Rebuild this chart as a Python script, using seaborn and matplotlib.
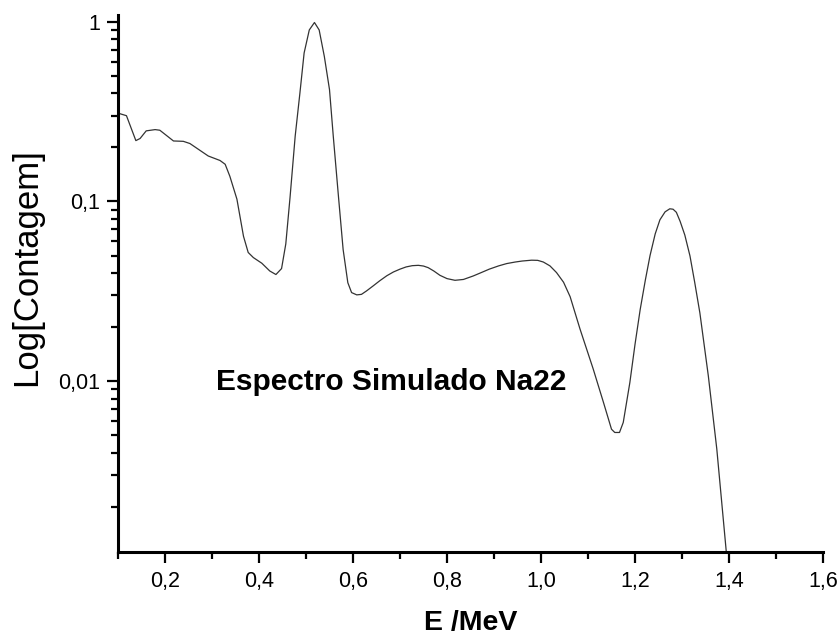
import matplotlib
matplotlib.use("Agg")
import matplotlib.pyplot as plt
import matplotlib.ticker as mticker
import numpy as np
import seaborn as sns

sns.set_style('white')
plt.rcParams['font.family'] = ['Liberation Sans', 'DejaVu Sans']
plt.rcParams['text.color'] = 'black'
plt.rcParams['axes.labelcolor'] = 'black'
plt.rcParams['xtick.color'] = 'black'
plt.rcParams['ytick.color'] = 'black'

# simulated Na22 spectrum
energy = [0.100, 0.118, 0.138, 0.147, 0.160, 0.179, 0.189, 0.218, 0.239, 0.253,
          0.292, 0.317, 0.328, 0.338, 0.353, 0.367, 0.377, 0.388, 0.406, 0.423,
          0.436, 0.448, 0.457, 0.466, 0.477, 0.487, 0.496, 0.507, 0.518, 0.528,
          0.539, 0.550, 0.558, 0.569, 0.579, 0.589, 0.597, 0.608, 0.618, 0.629,
          0.643, 0.657, 0.672, 0.686, 0.700, 0.713, 0.726, 0.739, 0.750, 0.760,
          0.772, 0.785, 0.800, 0.817, 0.835, 0.856, 0.873, 0.890, 0.910, 0.927,
          0.945, 0.960, 0.980, 0.993, 1.005, 1.019, 1.033, 1.048, 1.062, 1.083,
          1.111, 1.133, 1.150, 1.157, 1.167, 1.175, 1.189, 1.200, 1.211, 1.222,
          1.232, 1.243, 1.253, 1.264, 1.274, 1.281, 1.288, 1.296, 1.306, 1.317,
          1.327, 1.338, 1.356, 1.374, 1.394, 1.410]
counts = [0.310, 0.300, 0.218, 0.224, 0.247, 0.251, 0.249, 0.217, 0.216, 0.210,
          0.179, 0.169, 0.161, 0.138, 0.103, 0.064, 0.052, 0.0487, 0.0453, 0.041,
          0.0392, 0.0423, 0.058, 0.105, 0.231, 0.40, 0.67, 0.90, 0.99, 0.90,
          0.641, 0.419, 0.231, 0.107, 0.054, 0.0353, 0.0311, 0.0302, 0.0304, 0.0318,
          0.0339, 0.0362, 0.0386, 0.0405, 0.0420, 0.0432, 0.0439, 0.0441, 0.0437, 0.0428,
          0.0410, 0.0388, 0.0372, 0.0364, 0.0368, 0.0385, 0.0402, 0.0420, 0.0438, 0.0451,
          0.0460, 0.0466, 0.0471, 0.0470, 0.0460, 0.0438, 0.0402, 0.0355, 0.0295, 0.0195,
          0.0117, 0.0076, 0.0054, 0.00518, 0.00518, 0.00589, 0.0098, 0.0160, 0.0250, 0.0365,
          0.0500, 0.0660, 0.0790, 0.0875, 0.0910, 0.0905, 0.0870, 0.0775, 0.0650, 0.0497,
          0.0355, 0.0240, 0.0107, 0.0042, 0.00114, 0.0006]

xticks = [0.2, 0.4, 0.6, 0.8, 1.0, 1.2, 1.4, 1.6]
yticks = [0.01, 0.1, 1]
ytick_labels = ["0,01", "0,1", "1"]

fig = plt.figure(figsize=(8.4, 6.36), dpi=100)
ax = fig.add_axes([118/840, 1 - 552/636, 705/840, 537/636])

sns.lineplot(x=energy, y=counts, ax=ax, color='#333333', lw=0.9, estimator=None)

ax.set_yscale('log')
ax.set_xlim(0.1, 1.6)
ax.set_ylim(0.00112, 1.09)

ax.set_xticks(xticks)
ax.set_xticklabels([f"{t:.1f}".replace('.', ',') for t in xticks])
ax.xaxis.set_minor_locator(mticker.MultipleLocator(0.1))
ax.set_yticks(yticks)
ax.set_yticklabels(ytick_labels)
ax.yaxis.set_minor_locator(mticker.LogLocator(base=10, subs=np.arange(2, 10)))
ax.yaxis.set_minor_formatter(mticker.NullFormatter())

for s in ['top', 'right']:
    ax.spines[s].set_visible(False)
for s in ['left', 'bottom']:
    ax.spines[s].set_linewidth(2.2)
    ax.spines[s].set_color('black')

ax.tick_params(which='major', direction='out', length=8, width=1.6, labelsize=15.5,
               color='black', labelcolor='black', left=True, bottom=True)
ax.tick_params(which='minor', direction='out', length=5, width=1.6,
               color='black', left=True, bottom=True)
ax.tick_params(axis='x', which='major', pad=6)
ax.tick_params(axis='y', which='major', pad=5)

ax.text(0.3085, 0.0089, "Espectro Simulado Na22", fontsize=21.5, fontweight='bold',
        ha='left', va='baseline', color='black')

ax.set_xlabel("E /MeV", fontsize=20.5, fontweight='bold')
ax.xaxis.set_label_coords(0.5, -0.108)
ax.set_ylabel("Log[Contagem]", fontsize=25)
ax.yaxis.set_label_coords(-0.106, 0.531)

fig.savefig("out.png", dpi=100)
